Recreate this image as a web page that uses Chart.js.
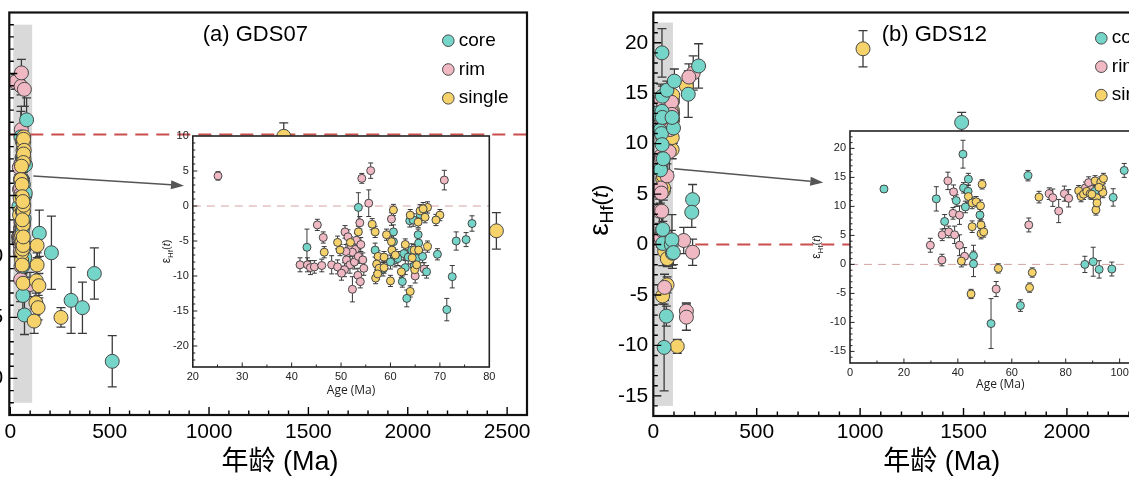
<!DOCTYPE html>
<html><head><meta charset="utf-8">
<script src="https://cdn.jsdelivr.net/npm/chart.js@4.4.1/dist/chart.umd.min.js"></script>
<style>
html,body{margin:0;padding:0;background:#fff;}
#wrap{position:relative;width:1129px;height:480px;overflow:hidden;background:#fff;}
#wrap canvas{position:absolute;}
</style></head>
<body><div id="wrap">
<canvas id="mainA" width="600" height="480" style="left:-60px;top:0;width:600px;height:480px"></canvas>
<canvas id="mainB" width="660" height="480" style="left:560px;top:0;width:660px;height:480px"></canvas>
<canvas id="insetA" width="360" height="280" style="left:140px;top:120px;width:360px;height:280px"></canvas>
<canvas id="insetB" width="400" height="285" style="left:795px;top:115px;width:400px;height:285px"></canvas>
</div>
<script>
// ---------------- DATA ----------------
const GROUPS = ['core', 'rim', 'single'];

// (a) GDS07
const A_CORE_AGE = [53.5,43.1,56.9,60.6,60.6,60.9,62.7,63.6,63.0,62.4,63.3,63.9,65.6,65.7,64.3,65.3,66.5,67.3,69.5,73.3,72.5,71.4,75.3,76.5,64.6,66.0,61.5,64.8,60.0,58.5,82,146,207,306,363,423,513];
const A_CORE_EPS = [-0.2,-5.9,-6.3,-3.7,-5.1,-7.7,-6.8,-7.3,-8.8,-10.8,-13.2,-2.1,-4.1,-5.3,-6.3,-7.5,-7.2,-9.4,-6.9,-5.0,-10.1,-14.8,-4.8,-2.5,-2.0,-1.2,-7.5,-8.6,-8.0,-9.0,1.2,-8.1,-9.7,-13.6,-14.2,-11.4,-18.6];
const A_CORE_ERR = [2.1,2.6,1.0,1.0,0.9,1.0,0.9,1.0,1.0,0.8,1.2,0.9,0.8,1.0,0.9,1.0,0.9,0.9,0.8,1.3,1.6,1.6,1.0,1.1,0.9,0.9,1.0,1.0,1.0,1.0,1.8,1.9,3.0,2.7,2.1,2.1,2.1];

const A_RIM_AGE = [25.1,54.2,56.0,55.6,70.9,45.2,46.4,41.7,43.2,43.8,44.6,46.1,48.1,49.3,50.8,51.4,52.1,53.1,53.8,52.9,52.3,51.1,51.8,52.7,53.5,54.4,54.6,53.4,53.9,52.3,50.7,50.1,60.2,65.0,66.8,51.0,54.0,99];
const A_RIM_EPS = [4.3,3.95,5.05,0.4,3.7,-2.7,-4.5,-8.4,-8.4,-8.8,-8.7,-8.5,-8.4,-8.7,-3.7,-4.4,-5.8,-4.9,-2.4,-6.2,-6.6,-7.7,-8.4,-8.0,-7.2,-7.7,-8.9,-9.9,-10.8,-11.9,-9.1,-9.6,-1.86,-10.0,-9.0,-6.5,-5.5,-12.3];
const A_RIM_ERR = [0.6,0.7,1.1,1.9,1.4,0.8,0.8,1.0,1.0,1.0,0.9,0.9,1.3,1.0,0.9,1.0,1.0,1.0,0.9,1.0,1.0,1.0,1.2,1.0,1.0,1.0,1.0,1.0,0.9,1.8,1.0,1.0,0.9,1.0,0.9,1.0,1.0,1.0];

const A_SINGLE_AGE = [60.6,64.0,66.0,67.5,66.6,70.0,69.2,67.0,65.6,56.3,56.9,53.5,51.9,49.3,49.8,46.6,59.2,60.2,60.3,57.5,58.7,57.2,57.7,58.7,57.0,57.4,60.0,62.2,64.0,64.9,64.8,65.7,67.5,64.4,65.3,61.0,63.0,135,135,131,144,129,140,120,255,1376,2446];
const A_SINGLE_EPS = [-0.57,-1.3,-0.7,-0.2,-0.4,-1.3,-2.0,-1.6,-2.3,-2.6,-3.7,-3.7,-5.2,-5.2,-6.3,-6.6,-4.1,-5.1,-6.3,-7.2,-7.3,-8.3,-8.9,-8.8,-10.3,-9.7,-10.7,-9.4,-12.2,-9.1,-6.3,-6.3,-5.8,-7.4,-8.4,-7.0,-5.5,-9.1,-10.7,-12.0,-12.4,-13.8,-14.2,-15.3,-15.0,-0.15,-7.9];
const A_SINGLE_ERR = [0.8,0.8,0.9,0.8,0.9,0.8,0.8,0.8,0.8,0.8,0.8,0.8,0.8,0.9,0.8,0.8,0.8,0.8,0.8,0.8,0.8,0.8,0.8,0.8,0.8,0.8,0.8,0.8,0.8,0.8,0.8,0.8,0.8,0.8,0.8,0.8,0.8,1.0,1.0,1.0,1.0,1.0,1.0,1.0,0.8,1.1,1.5];

// (b) GDS12
const B_CORE_AGE = [12.6,32.0,35.1,41.9,39.4,42.1,43.9,43.8,42.8,48.2,45.8,45.8,52.3,63.2,66.0,87.1,90.2,92.4,97.1,97.6,101.7,90.8,1491,219,169,190,186];
const B_CORE_EPS = [13.0,11.3,7.4,19.0,11.0,13.2,14.7,12.6,9.9,8.5,1.5,0.1,-10.2,-7.1,15.3,0.0,0.46,-0.86,-0.8,11.55,16.2,12.6,12.1,17.7,14.9,4.45,3.2];
const B_CORE_ERR = [0.6,2.1,1.2,2.4,1.0,0.9,1.0,1.0,1.0,1.0,1.8,2.2,4.3,1.0,0.9,1.4,2.5,1.5,1.2,1.5,1.2,1.0,1.0,2.2,2.3,1.5,1.5];

const B_RIM_AGE = [29.8,34.1,34.2,36.3,36.6,38.4,38.2,38.8,40.6,40.6,42.5,54.2,66.3,73.9,75.2,77.4,79.5,81.1,87.3,88.5,89.6,193,172,147,190,160,160];
const B_RIM_EPS = [3.3,0.75,5.1,14.4,5.6,12.5,8.8,5.1,8.5,3.3,1.4,-4.25,6.8,12.2,11.5,9.2,12.2,11.4,13.2,14.1,12.9,17.0,16.6,0.4,-0.76,-6.6,-7.2];
const B_RIM_ERR = [1.2,1.0,1.0,1.5,1.0,1.2,1.0,1.5,1.6,1.8,1.5,1.3,1.2,1.0,1.5,2.0,1.3,1.5,1.0,1.0,1.0,1.7,1.3,1.3,1.3,0.8,1.3];

const B_SINGLE_AGE = [41.3,43.9,45.3,45.3,44.9,46.8,48.4,48.6,48.6,49.6,49.0,55.0,66.6,67.6,70.1,84.8,85.7,86.6,87.8,89.1,90.9,91.5,91.2,93.0,93.4,93.8,94.0,92.3,91.6,89.7,1014,160,116];
const B_SINGLE_EPS = [0.57,11.7,10.6,6.5,-5.1,10.8,10.1,6.8,5.3,5.6,13.8,-0.69,-4.0,-1.4,11.6,12.7,11.7,12.1,12.6,12.2,14.4,11.5,9.4,14.2,13.0,12.4,14.8,13.3,10.6,12.1,19.4,15.7,-10.1];
const B_SINGLE_ERR = [1.0,1.0,1.0,1.0,0.8,0.9,1.0,0.9,0.9,0.9,0.8,0.8,0.8,0.8,1.0,0.9,0.9,0.9,0.9,0.9,0.9,0.9,0.9,0.9,0.9,0.9,0.9,0.9,0.9,0.9,1.8,1.0,0.7];

// tick labels
const MAIN_X_TICKS = [0, 500, 1000, 1500, 2000, 2500];
const A_Y_TICKS = [-20, -15, -10, -5, 0, 5, 10];
const B_Y_TICKS = [-15, -10, -5, 0, 5, 10, 15, 20];
const IA_X_TICKS = [20, 30, 40, 50, 60, 70, 80];
const IA_Y_TICKS = [-20, -15, -10, -5, 0, 5, 10];
const IB_X_TICKS = [0, 20, 40, 60, 80, 100];
const IB_Y_TICKS = [-15, -10, -5, 0, 5, 10, 15, 20];

// highlighted age window (grey band) and arrow annotation, in data units
const A_BAND_AGE = [15, 110];
const A_BAND_EPS = [-22, 9];
const B_BAND_AGE = [0, 95];
const B_BAND_EPS = [-16, 22];
const A_ARROW = [[116, -3.4], [874, -4.2]];
const B_ARROW = [[101, 7.5], [822, 6.15]];

// ---------------- STYLE ----------------
const FAM = "'Liberation Sans', Arial, 'Noto Sans CJK SC', sans-serif";
const COLORS = {core: '#74d5c8', rim: '#f0b8c3', single: '#f5d26a'};
const EDGE = '#474747';
Chart.defaults.color = '#000';
Chart.defaults.font.family = FAM;

const pts = (ages, eps, errs) => ages.map((a, i) => ({x: a, y: eps[i], e: errs[i]}));

function makeDatasets(series, radius, top, clip) {
  return GROUPS.map((g, i) => ({
    label: g,
    data: pts(series[g][0], series[g][1], series[g][2]),
    backgroundColor: COLORS[g], borderColor: EDGE, borderWidth: 1,
    pointRadius: radius, pointHoverRadius: radius,
    order: g === top ? 0 : i + 1,
    clip: clip
  }));
}

function linScale(min, max, ticks, o) {
  return {
    type: 'linear', min: min, max: max,
    afterBuildTicks: s => { s.ticks = ticks.map(v => ({value: v})); },
    afterFit: s => {
      if (o.w != null) s.width = o.w;
      if (o.h != null) s.height = o.h;
      s.paddingTop = 0; s.paddingBottom = 0; s.paddingLeft = 0; s.paddingRight = 0;
    },
    grid: {display: false, drawTicks: false},
    border: {display: false},
    ticks: {autoSkip: false, maxRotation: 0, minRotation: 0, padding: o.pad,
      font: {size: o.fs, family: FAM}, color: o.color || '#000',
      crossAlign: o.cross || 'near', callback: v => String(v)}
  };
}

function drawEpsTitle(ctx, bx, cy, o) {
  const fam = "'Liberation Sans', Arial, sans-serif";
  const parts = [
    {t: 'ε', f: o.eps + 'px ' + fam, d: 0},
    {t: 'Hf', f: o.sub + 'px ' + fam, d: o.drop},
    {t: '(', f: o.par + 'px ' + fam, d: 0},
    {t: 't', f: 'italic ' + o.par + 'px ' + fam, d: 0},
    {t: ')', f: o.par + 'px ' + fam, d: 0}
  ];
  ctx.save();
  let total = 0;
  parts.forEach(p => { ctx.font = p.f; p.w = ctx.measureText(p.t).width; total += p.w; });
  ctx.translate(bx, cy); ctx.rotate(-Math.PI / 2);
  ctx.fillStyle = o.color || '#000'; ctx.textBaseline = 'alphabetic'; ctx.textAlign = 'left';
  let u = -total / 2;
  parts.forEach(p => { ctx.font = p.f; ctx.fillText(p.t, u, p.d); u += p.w; });
  ctx.restore();
}

const decor = {
  id: 'decor',
  beforeDraw(chart, args, o) {
    if (!o.whiteBg) return;
    const {ctx, chartArea: a} = chart;
    ctx.save(); ctx.fillStyle = '#fff';
    ctx.fillRect(a.left, a.top, a.right - a.left, a.bottom - a.top);
    ctx.restore();
  },
  beforeDatasetsDraw(chart, args, o) {
    const {ctx, chartArea: a, scales: {x, y}} = chart;
    ctx.save();
    ctx.beginPath(); ctx.rect(a.left, a.top, a.right - a.left, a.bottom - a.top); ctx.clip();
    if (o.band) {
      const x0 = x.getPixelForValue(o.band.age[0]), x1 = x.getPixelForValue(o.band.age[1]);
      const y0 = y.getPixelForValue(o.band.eps[1]), y1 = y.getPixelForValue(o.band.eps[0]);
      ctx.fillStyle = o.band.color; ctx.fillRect(x0, y0, x1 - x0, y1 - y0);
    }
    if (o.zero) {
      const py = y.getPixelForValue(0);
      ctx.strokeStyle = o.zero.color; ctx.lineWidth = o.zero.width; ctx.setLineDash(o.zero.dash);
      ctx.beginPath(); ctx.moveTo(a.left, py); ctx.lineTo(a.right, py); ctx.stroke();
      ctx.setLineDash([]);
    }
    if (o.err) {
      ctx.strokeStyle = o.err.color; ctx.lineWidth = o.err.width;
      const c = o.err.cap;
      chart.data.datasets.forEach(ds => ds.data.forEach(p => {
        const px = x.getPixelForValue(p.x);
        if (px < a.left - 10 || px > a.right + 10) return;
        const ya = y.getPixelForValue(p.y + p.e), yb = y.getPixelForValue(p.y - p.e);
        ctx.beginPath();
        ctx.moveTo(px, ya); ctx.lineTo(px, yb);
        ctx.moveTo(px - c, ya); ctx.lineTo(px + c, ya);
        ctx.moveTo(px - c, yb); ctx.lineTo(px + c, yb);
        ctx.stroke();
      }));
    }
    ctx.restore();
  },
  afterDraw(chart, args, o) {
    const {ctx, chartArea: a, scales: {x, y}} = chart;
    ctx.save();
    // inward ticks
    const t = o.ticks;
    const steps = (s, step) => {
      const out = [];
      for (let k = Math.ceil(s.min / step - 1e-9); k * step <= s.max + 1e-9; k++) out.push(Math.round(k * step * 1000) / 1000);
      return out.filter(v => v > s.min + 1e-9 && v < s.max - 1e-9);
    };
    const majX = x.ticks.map(k => k.value), majY = y.ticks.map(k => k.value);
    ctx.strokeStyle = t.color; ctx.lineWidth = t.width;
    ctx.beginPath();
    steps(x, t.xMinor).forEach(v => {
      const len = majX.includes(v) ? t.major : t.minor;
      const px = x.getPixelForValue(v);
      ctx.moveTo(px, a.bottom); ctx.lineTo(px, a.bottom - len);
    });
    steps(y, t.yMinor).forEach(v => {
      const len = majY.includes(v) ? t.major : t.minor;
      const py = y.getPixelForValue(v);
      ctx.moveTo(a.left, py); ctx.lineTo(a.left + len, py);
    });
    ctx.stroke();
    // frame
    ctx.lineWidth = o.frame.width; ctx.strokeStyle = o.frame.color;
    ctx.strokeRect(a.left, a.top, a.right - a.left, a.bottom - a.top);
    // arrow
    if (o.arrow) {
      const [p0, p1] = o.arrow.pts;
      const x0 = x.getPixelForValue(p0[0]), y0 = y.getPixelForValue(p0[1]);
      const x1 = x.getPixelForValue(p1[0]), y1 = y.getPixelForValue(p1[1]);
      const ang = Math.atan2(y1 - y0, x1 - x0), L = o.arrow.len, W = o.arrow.wid;
      const cs = Math.cos(ang), sn = Math.sin(ang);
      ctx.strokeStyle = o.arrow.color; ctx.fillStyle = o.arrow.color; ctx.lineWidth = o.arrow.width;
      ctx.beginPath(); ctx.moveTo(x0, y0); ctx.lineTo(x1 - L * cs, y1 - L * sn); ctx.stroke();
      ctx.beginPath(); ctx.moveTo(x1, y1);
      ctx.lineTo(x1 - L * cs + W / 2 * sn, y1 - L * sn - W / 2 * cs);
      ctx.lineTo(x1 - L * cs - W / 2 * sn, y1 - L * sn + W / 2 * cs);
      ctx.closePath(); ctx.fill();
    }
    // legend
    if (o.legend) {
      const L = o.legend;
      ctx.font = L.fs + 'px ' + FAM; ctx.textAlign = 'left'; ctx.textBaseline = 'alphabetic';
      chart.data.datasets.map(d => d.label).forEach((lab, i) => {
        const cx = a.left + L.dx, cy = a.top + L.dy + i * L.gap;
        ctx.beginPath(); ctx.arc(cx, cy, L.r, 0, Math.PI * 2);
        ctx.fillStyle = COLORS[lab]; ctx.fill();
        ctx.lineWidth = 1; ctx.strokeStyle = EDGE; ctx.stroke();
        ctx.fillStyle = '#000'; ctx.fillText(lab, cx + L.tx, cy + L.fs * 0.27);
      });
    }
    // panel title
    if (o.title) {
      ctx.font = o.title.fs + 'px ' + FAM; ctx.fillStyle = '#000';
      ctx.textAlign = 'center'; ctx.textBaseline = 'alphabetic';
      ctx.fillText(o.title.text, a.left + o.title.dx, a.top + o.title.dy);
    }
    // x axis title
    if (o.xTitle) {
      const X = o.xTitle;
      ctx.font = X.fs + 'px ' + X.fam; ctx.fillStyle = X.color || '#000';
      ctx.textAlign = 'center'; ctx.textBaseline = 'middle';
      ctx.fillText(X.text, (a.left + a.right) / 2 + X.dx, a.bottom + X.dy);
    }
    // y axis title
    if (o.yTitle) {
      const Y = o.yTitle;
      drawEpsTitle(ctx, a.left - Y.off, (a.top + a.bottom) / 2 + Y.dy, Y);
    }
    ctx.restore();
  }
};

const SER_A = {core: [A_CORE_AGE, A_CORE_EPS, A_CORE_ERR], rim: [A_RIM_AGE, A_RIM_EPS, A_RIM_ERR], single: [A_SINGLE_AGE, A_SINGLE_EPS, A_SINGLE_ERR]};
const SER_B = {core: [B_CORE_AGE, B_CORE_EPS, B_CORE_ERR], rim: [B_RIM_AGE, B_RIM_EPS, B_RIM_ERR], single: [B_SINGLE_AGE, B_SINGLE_EPS, B_SINGLE_ERR]};

const baseOpts = {responsive: false, animation: false, events: [], devicePixelRatio: 1};

function mainChart(id, ser, top, cfg) {
  return new Chart(document.getElementById(id), {
    type: 'scatter',
    data: {datasets: makeDatasets(ser, 7, top, undefined)},
    plugins: [decor],
    options: Object.assign({}, baseOpts, {
      layout: {autoPadding: false, padding: cfg.padding},
      scales: {
        x: linScale(cfg.xr[0], cfg.xr[1], MAIN_X_TICKS, {h: cfg.xh, pad: cfg.xpad, fs: 21}),
        y: linScale(cfg.yr[0], cfg.yr[1], cfg.yticks, {w: cfg.yw, pad: cfg.ypad, fs: 21, cross: cfg.cross})
      },
      plugins: {
        legend: {display: false}, tooltip: {enabled: false},
        decor: {
          band: {age: cfg.bandAge, eps: cfg.bandEps, color: '#d9d9d9'},
          zero: {color: '#c94e4c', width: 2, dash: [13, 8]},
          err: {color: '#3a3a3a', width: 1.3, cap: 4.5},
          ticks: {xMinor: 100, yMinor: 1, major: 8, minor: 4.5, width: 1.4, color: '#000'},
          frame: {width: 2.2, color: '#111'},
          arrow: {pts: cfg.arrow, len: 13, wid: 9, width: 1.5, color: '#555'},
          legend: {dx: cfg.legDx, dy: cfg.legDy, gap: cfg.legGap, r: 5.8, tx: 10.5, fs: 19},
          title: {text: cfg.title, dx: cfg.titleDx, dy: 28.2, fs: 22},
          xTitle: {text: '年龄 (Ma)', dx: cfg.xtDx, dy: cfg.xtDy, fs: 27, fam: FAM},
          yTitle: {off: 45, dy: -4, eps: 28, sub: 18, par: 22, drop: 5}
        }
      }
    })
  });
}

function insetChart(id, ser, top, cfg) {
  return new Chart(document.getElementById(id), {
    type: 'scatter',
    data: {datasets: makeDatasets(ser, 4, top, 0)},
    plugins: [decor],
    options: Object.assign({}, baseOpts, {
      layout: {autoPadding: false, padding: cfg.padding},
      scales: {
        x: linScale(cfg.xr[0], cfg.xr[1], cfg.xticks, {h: cfg.xh, pad: 3, fs: 11, color: '#222'}),
        y: linScale(cfg.yr[0], cfg.yr[1], cfg.yticks, {w: cfg.yw, pad: 4, fs: 11, color: '#222'})
      },
      plugins: {
        legend: {display: false}, tooltip: {enabled: false},
        decor: {
          whiteBg: true,
          zero: {color: '#d6a2a2', width: 1, dash: [8, 6]},
          err: {color: '#3a3a3a', width: 1, cap: 2.5},
          ticks: {xMinor: cfg.xMinor, yMinor: 1, major: 4.5, minor: 2.5, width: 1, color: '#222'},
          frame: {width: 1.6, color: '#222'},
          xTitle: {text: 'Age (Ma)', dx: cfg.xtDx, dy: cfg.xtDy, fs: 12, fam: "'Open Sans', 'Liberation Sans', sans-serif", color: '#222'},
          yTitle: {off: cfg.ytOff, dy: 0, eps: 12, sub: 8, par: 11, drop: 2.5, color: '#222'}
        }
      }
    })
  });
}

mainChart('mainA', SER_A, 'single', {
  padding: {top: 12.5, right: 13, left: 0, bottom: 0},
  xr: [-5, 2600], yr: [-23, 10], yticks: A_Y_TICKS, xh: 65, yw: 69.3, xpad: 5, ypad: 6, cross: 'center',
  bandAge: A_BAND_AGE, bandEps: A_BAND_EPS, arrow: A_ARROW,
  legDx: 439, legDy: 28.2, legGap: 28.8,
  title: '(a) GDS07', titleDx: 246, xtDx: 11.8, xtDy: 48
});

mainChart('mainB', SER_B, 'core', {
  padding: {top: 12.5, right: 29, left: 0, bottom: 0},
  xr: [0, 2600], yr: [-17, 23], yticks: B_Y_TICKS, xh: 64, yw: 93.3, xpad: 4, ypad: 5, cross: 'near',
  bandAge: B_BAND_AGE, bandEps: B_BAND_EPS, arrow: B_ARROW,
  legDx: 448, legDy: 25.8, legGap: 28.4,
  title: '(b) GDS12', titleDx: 281, xtDx: 19.5, xtDy: 47
});

insetChart('insetA', SER_A, 'single', {
  padding: {top: 16, right: 10.7, left: 0, bottom: 0},
  xr: [20, 80], yr: [-23, 10], xticks: IA_X_TICKS, yticks: IA_Y_TICKS, xh: 33, yw: 52.8,
  xMinor: 5, xtDx: 10, xtDy: 24, ytOff: 22.8
});

insetChart('insetB', SER_B, 'single', {
  padding: {top: 16, right: 48.4, left: 0, bottom: 0},
  xr: [0, 110], yr: [-17, 23], xticks: IB_X_TICKS, yticks: IB_Y_TICKS, xh: 37, yw: 55,
  xMinor: 10, xtDx: 2, xtDy: 22, ytOff: 30
});
</script></body></html>
